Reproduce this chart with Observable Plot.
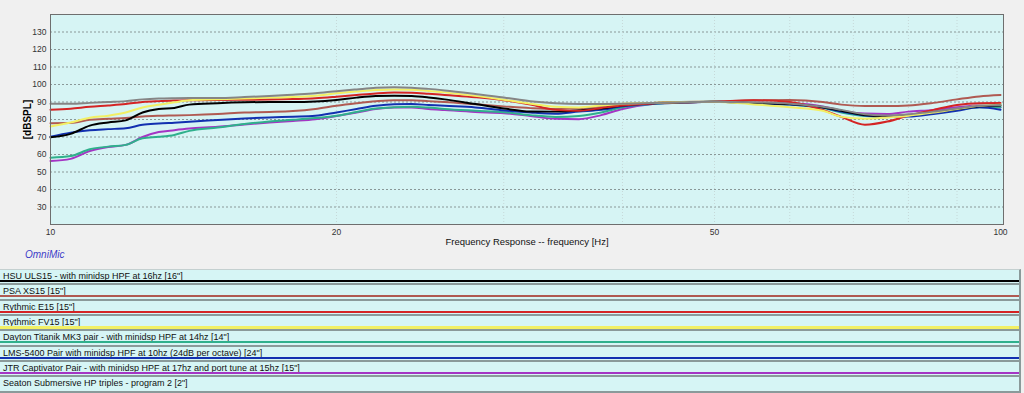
<!DOCTYPE html>
<html><head><meta charset="utf-8">
<script src="https://cdn.jsdelivr.net/npm/d3@7"></script>
<script src="https://cdn.jsdelivr.net/npm/@observablehq/plot@0.6"></script>
<style>
html,body{margin:0;padding:0;background:#f0f0f0;font-family:"Liberation Sans",Arial,sans-serif;}
#wrap{position:relative;width:1024px;height:393px;overflow:hidden;background:#f0f0f0;}
#chart{position:absolute;left:0;top:0;}
#omni{position:absolute;left:25px;top:249px;font-style:italic;font-size:10px;color:#3c3cc8;}
#legend{position:absolute;left:0;top:269px;width:1019px;border-right:2px solid #8a9a9a;border-top:1px solid #c4d0d0;}
.row{position:relative;height:15.33px;background:#d6f5f5;}
.row span{position:absolute;left:3px;top:1px;font-size:9px;line-height:10px;color:#111;white-space:nowrap;}
.row .ln{position:absolute;left:0;right:0;top:10px;height:2px;}
.row .sep{position:absolute;left:0;right:0;bottom:0;height:2px;background:#8a9a9a;}
</style></head>
<body>
<div id="wrap">
<div id="chart"></div>
<div id="omni">OmniMic</div>
<div id="legend"></div>
</div>
<script>
const freqs = [10,10.5,11,11.5,12,12.5,13,13.5,14,15,16,17,18,19,20,21,22,23,24,25,26,28,30,32,34,36,38,40,43,46,50,55,60,65,68,72,76,80,85,90,95,100];

const hsuULS15   = [69.8,71.8,76.5,78.3,79.5,84,86,86.6,88.5,89.3,89.8,90,90,90.3,91.2,92.5,93.4,93.6,93.4,92.6,91.5,88.8,86.3,84.6,84.5,85.3,86.3,88,89.3,89.8,90.2,89.5,88.8,87,85,82.5,81.8,82.5,84.3,86,87.5,88];
const psaXS15    = [77.9,78,79.8,80.4,80.8,81.7,82.1,82.3,82.5,83.1,84,84.3,84.8,86,87.9,89.3,90.4,91,91,90.5,90,88.7,87.5,86.5,86,86.5,87.5,88.5,89.5,90,90.2,91,91.1,90,88.5,87.7,87.7,88,89.5,91.5,93.2,94];
const rythmicE15 = [85.6,86.2,87.3,88,88.8,90,90.5,90.8,91,91.1,91.3,91.4,91.7,92.1,93,94,94.9,95.4,95.3,94.7,94,92.7,91,88.5,85.5,85,86.6,88,89.2,89.8,90.2,91,90,85.4,81.5,77,78.8,82.3,85.5,88.3,89.3,89.4];
const rythmicFV15= [76,78.3,81,82.2,84,86.9,88.4,89.8,91,91.5,92,92.5,92.8,93.6,95,96,96.8,97.1,97,96.3,95.5,93.5,91.3,89,87.3,86.9,88,89,89.5,90,90.2,88.6,87,85,81.5,80.5,81.2,82.2,84,86,87.8,88.5];
const daytonMK3  = [58.2,59.1,63,64.5,65.5,69.3,70.1,71.2,73.5,75.4,77.4,78.9,79.8,80.8,82.1,84.3,86.3,87,87.3,86.8,86,85,84.2,82.5,81.5,82,84,87,88.8,89.7,90.2,89.5,88.5,86.5,84,82,81.5,82,83.8,85.5,87,87];
const lms5400    = [70.2,72.5,73.9,74.5,75,77,77.7,78.2,78.7,79.7,80.6,81.2,81.6,82.1,84,86,87.8,88.7,88.8,88.3,87.8,86.9,85.2,84,83.3,84.5,85.5,87.5,89,89.8,90.2,89.3,88.5,86.9,84.5,82.3,81.5,81.7,83.2,85,87,85.6];
const jtrCaptivator = [56.3,57.5,62,64.3,65.5,70,72.8,73.9,74.8,75.8,77.2,78.3,79.2,80.2,82,84,86,86.8,86.9,86,85.4,84.3,83.6,82,80.4,80.2,82.5,86,88.8,89.6,90.2,89.6,89.3,87.5,85,83.4,83.2,84.5,85.5,87,88,86.9];
const seatonSub  = [89,89,89.5,90,90.5,91.5,92,92.2,92.3,92.3,92.8,93.4,94.2,95,96.2,97.2,98.1,98.4,98.2,97.5,96.6,94.6,92.6,90.4,89.3,88.9,88.9,89,89.4,89.8,90.2,89.8,89,87.3,85.5,83,82.3,83,84.5,86.3,87.8,88.3];

const names = [
  "HSU ULS15 - with minidsp HPF at 16hz [16\"]",
  "PSA XS15 [15\"]",
  "Rythmic E15 [15\"]",
  "Rythmic FV15 [15\"]",
  "Dayton Titanik MK3 pair - with minidsp HPF at 14hz [14\"]",
  "LMS-5400 Pair with minidsp HPF at 10hz (24dB per octave) [24\"]",
  "JTR Captivator Pair - with minidsp HPF at 17hz and port tune at 15hz [15\"]",
  "Seaton Submersive HP triples - program 2 [2\"]"
];
const colors = ["#000000","#b05a52","#d42424","#f2f064","#2fb08c","#1230b0","#a435c4","#858585"];
const legendWidths = [2,2,2,3,2,2,2,2];
const seriesValues = [hsuULS15, psaXS15, rythmicE15, rythmicFV15, daytonMK3, lms5400, jtrCaptivator, seatonSub];

const yTicks = [30,40,50,60,70,80,90,100,110,120,130];
const xTicks = [10,20,50,100];
const xGrid = [20,30,40,50,60,70,80,90];

const drawOrder = [1,6,4,5,0,2,3,7];
const data = [];
for (const i of drawOrder) freqs.forEach((f,j) => data.push({name: names[i], f, db: seriesValues[i][j]}));

const chart = Plot.plot({
  width: 1024, height: 268,
  marginLeft: 50, marginRight: 21, marginTop: 14, marginBottom: 44,
  style: {background: "transparent", fontFamily: "'Liberation Sans', Arial, sans-serif", fontSize: "8.5px", color: "#333"},
  x: {type: "log", domain: [10, 100.73]},
  y: {domain: [20, 140]},
  color: {domain: names, range: colors},
  marks: [
    Plot.frame({fill: "#d6f4f4"}),
    Plot.gridY(yTicks, {stroke: "#8a9898", strokeOpacity: 1, strokeDasharray: "2,2"}),
    Plot.gridX(xGrid, {stroke: "#c6d8d8", strokeOpacity: 1, strokeDasharray: "1,2"}),
    Plot.line(data, {x: "f", y: "db", z: "name", stroke: "name", strokeWidth: 2, curve: "monotone-x"}),
    Plot.frame({stroke: "#6e6e6e"}),
    Plot.axisY(yTicks, {tickSize: 0, tickPadding: 4, label: null}),
    Plot.axisY([], {label: "[dBSPL]", labelAnchor: "center", labelArrow: "none", labelOffset: 27, fontSize: 10, fontWeight: "bold", fill: "#000"}),
    Plot.axisX(xTicks, {tickSize: 0, tickPadding: 4, tickFormat: d => String(d), label: null}),
    Plot.axisX([], {label: "Frequency Response -- frequency [Hz]", labelAnchor: "center", labelArrow: "none", labelOffset: 20, fontSize: 9.5, fill: "#111"})
  ]
});
document.getElementById("chart").appendChild(chart);

const leg = document.getElementById("legend");
names.forEach((n, i) => {
  const row = document.createElement("div");
  row.className = "row";
  const s = document.createElement("span"); s.textContent = n; row.appendChild(s);
  const ln = document.createElement("div"); ln.className = "ln";
  ln.style.background = colors[i]; ln.style.height = legendWidths[i] + "px";
  if (i === 7) ln.style.background = "transparent";
  row.appendChild(ln);
  const sep = document.createElement("div"); sep.className = "sep"; row.appendChild(sep);
  leg.appendChild(row);
});
</script>
</body></html>
